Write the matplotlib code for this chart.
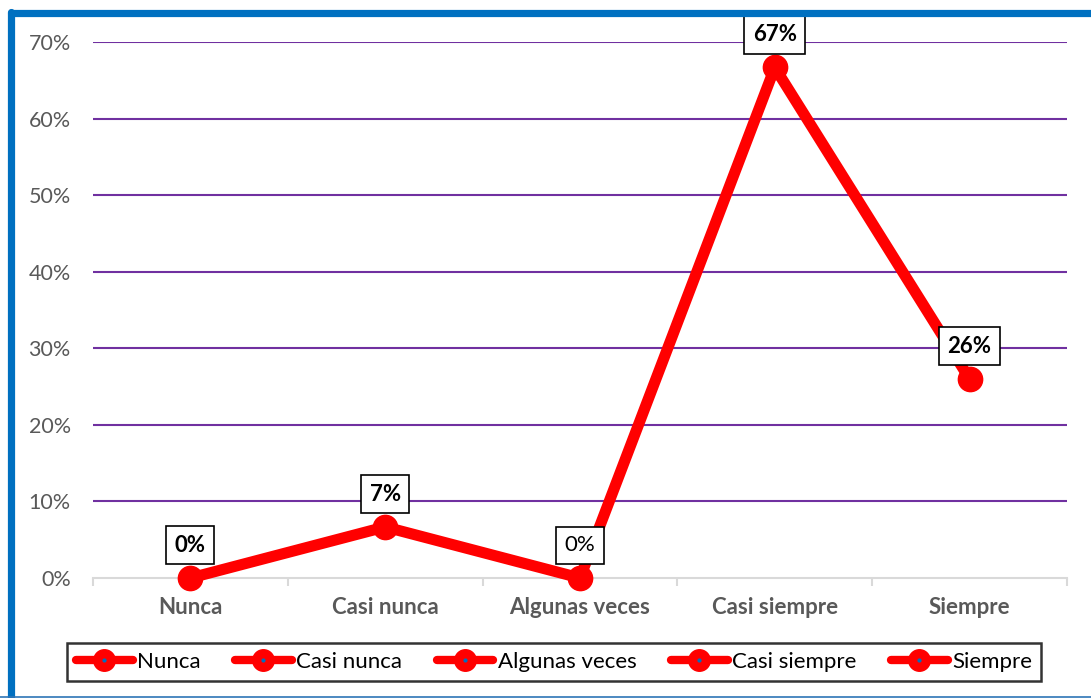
import matplotlib
matplotlib.use('Agg')
import matplotlib.pyplot as plt
from matplotlib.lines import Line2D
import numpy as np

plt.rcParams['font.family'] = ['Lato', 'DejaVu Sans']

categories = ['Nunca', 'Casi nunca', 'Algunas veces', 'Casi siempre', 'Siempre']
values = [0.0, 0.0667, 0.0, 0.6667, 0.26]
labels = ['0%', '7%', '0%', '67%', '26%']
label_bold = [True, True, False, True, True]
yticks = [0.0, 0.1, 0.2, 0.3, 0.4, 0.5, 0.6, 0.7]

RED = '#FF0000'
PURPLE = '#7030A0'
GRAY = '#595959'
BLUE = '#0070C0'

fig = plt.figure(figsize=(10.91, 6.98), dpi=100)
ax = fig.add_axes([93 / 1091, 1 - 578 / 698, (1067 - 93) / 1091, (578 - 42) / 698])

x = np.arange(len(categories))
ax.plot(x, values, '-o', color=RED, lw=8, markersize=17.5, zorder=3, clip_on=False,
        solid_joinstyle='round')

ax.set_xlim(-0.5, len(categories) - 0.5)
ax.set_ylim(0, 0.7)
ax.set_yticks(yticks)
ax.set_yticklabels([f'{int(round(v * 100))}%' for v in yticks], color=GRAY, fontsize=15.5)
ax.tick_params(axis='y', length=0, pad=16)
ax.set_xticks(x)
ax.set_xticklabels(categories, color=GRAY, fontsize=16, fontweight='bold')
ax.tick_params(axis='x', which='major', length=0, pad=14)
ax.set_xticks(np.arange(-0.5, len(categories)), minor=True)
ax.tick_params(axis='x', which='minor', length=6, color='#D9D9D9', width=1.5)

for y in yticks[1:]:
    ax.axhline(y, color=PURPLE, lw=1.5, zorder=1)
for s in ['left', 'right', 'top']:
    ax.spines[s].set_visible(False)
ax.spines['bottom'].set_color('#D9D9D9')
ax.spines['bottom'].set_linewidth(1.5)

# data labels in boxes above the points
for xi, v, t, b in zip(x, values, labels, label_bold):
    ax.annotate(t, xy=(xi, v), xytext=(0, 23.5), textcoords='offset points',
                ha='center', va='center', fontsize=16,
                fontweight='bold' if b else 'normal', color='black',
                bbox=dict(boxstyle='square,pad=0.38', fc='white', ec='black', lw=1.2),
                zorder=5, annotation_clip=False)

handles = [(Line2D([0], [0], color=RED, lw=6, marker='o', markersize=15.5,
                   solid_capstyle='round'),
            Line2D([0], [0], ls='none', marker='o', markersize=2, color=BLUE))
           for _ in categories]
leg = fig.legend(handles, categories, loc='center', bbox_to_anchor=(554 / 1091, 1 - 662 / 698),
                 ncol=5, fontsize=16, frameon=True, fancybox=False, handlelength=2.55,
                 handletextpad=0.2, columnspacing=1.55, borderpad=0.4)
leg.get_frame().set_edgecolor('black')
leg.get_frame().set_linewidth(1.8)

# blue frame around the chart
fig.add_artist(Line2D([11.5 / 1091, 11.5 / 1091], [0, 1 - 12 / 698], color=BLUE, lw=5.2,
                      transform=fig.transFigure, solid_capstyle='round'))
fig.add_artist(Line2D([11.5 / 1091, 1], [1 - 12.5 / 698, 1 - 12.5 / 698], color=BLUE, lw=5.2,
                      transform=fig.transFigure, solid_capstyle='round'))
fig.add_artist(Line2D([0, 1], [1.5 / 698, 1.5 / 698], color='#2E75B6', lw=1.2,
                      transform=fig.transFigure))

fig.savefig('out.png', dpi=100, facecolor='white')
